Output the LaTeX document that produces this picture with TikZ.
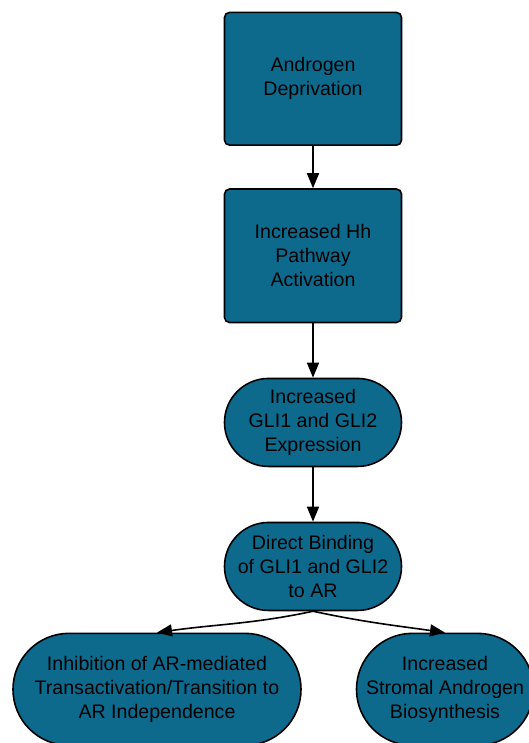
\documentclass[tikz,border=0pt]{standalone}
\usepackage{fontspec}
\setmainfont{Liberation Sans}
\usepackage{xcolor}
\definecolor{PathTeal}{HTML}{0E6A8D}
\usepackage{tikz}
\usetikzlibrary{positioning,arrows.meta}

\begin{document}
\begin{tikzpicture}[
  sqbox/.style={
    draw,
    line width=1.6pt,
    rounded corners=5pt,
    fill=PathTeal,
    minimum width=177pt,
    align=center,
    inner sep=0pt,
    font=\fontsize{19.6}{24}\selectfont
  },
  pill/.style={
    draw,
    line width=1.6pt,
    rounded corners=44pt,
    fill=PathTeal,
    minimum width=177pt,
    minimum height=88pt,
    align=center,
    inner sep=0pt,
    font=\fontsize{19.6}{24}\selectfont
  },
  arr/.style={-{Triangle[width=12pt,length=15pt]},line width=1.6pt}
]
\useasboundingbox (0,0) rectangle (528pt,-743pt);

\node[sqbox,minimum height=132.7pt] (adr) at (313pt,-78.8pt) {Androgen\\Deprivation};
\node[sqbox,minimum height=133.4pt,below=42.3pt of adr] (hh) {Increased Hh\\Pathway\\Activation};
\node[pill,below=54.4pt of hh] (gliexp) {Increased\\GLI1 and GLI2\\Expression};
\node[pill,below=54.4pt of gliexp] (bind) {Direct Binding\\of GLI1 and GLI2\\to AR};

\node[pill,rounded corners=56pt,minimum width=288pt,minimum height=112pt,
  below=21.3pt of bind,xshift=-156pt] (inhib)
  {Inhibition of AR-mediated\\Transactivation/Transition to\\AR Independence};
\node[pill,rounded corners=56pt,minimum width=177pt,minimum height=112pt,
  below=21.3pt of bind,xshift=132pt] (strom)
  {Increased\\Stromal Androgen\\Biosynthesis};

\draw[arr] (adr)--(hh);
\draw[arr] (hh)--(gliexp);
\draw[arr] (gliexp)--(bind);
\draw[arr] (bind.south) to[out=192,in=8] (inhib.north);
\draw[arr] (bind.south) to[out=-12,in=172] (strom.north);

\end{tikzpicture}
\end{document}
